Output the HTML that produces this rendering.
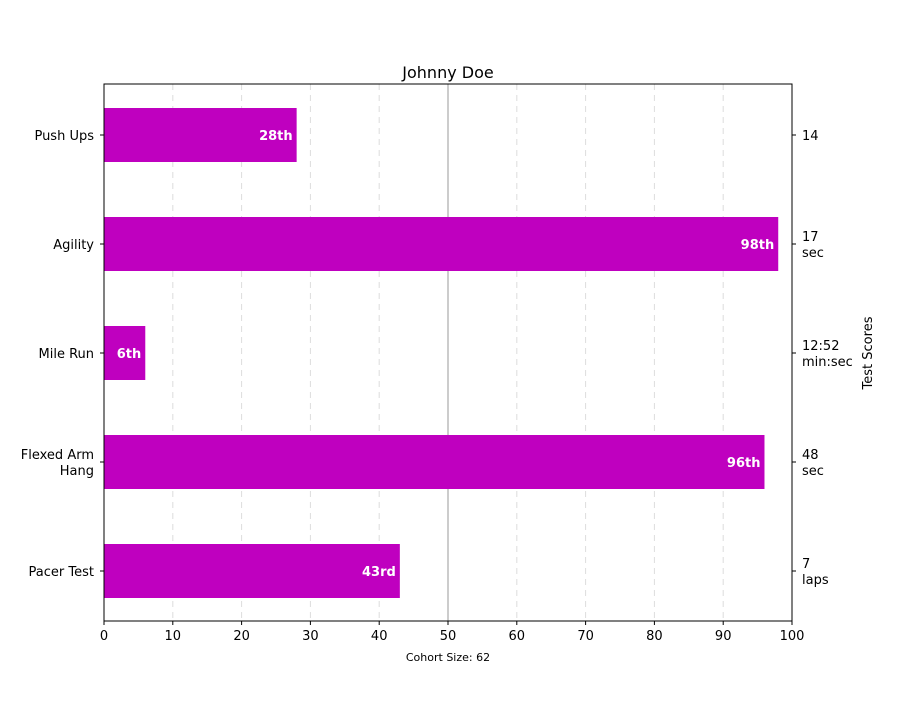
<!DOCTYPE html>
<html><head><meta charset="utf-8"><style>body{margin:0;background:#fff}text{font-family:"DejaVu Sans","Liberation Sans",sans-serif}</style></head>
<body>
<svg id="chart" width="900" height="700" xmlns="http://www.w3.org/2000/svg"></svg>
<script>
const categories = ["Pacer Test","Flexed Arm\nHang","Mile Run","Agility","Push Ups"];
const percentiles = [43, 96, 6, 98, 28];
const rankLabels = ["43rd","96th","6th","98th","28th"];
const scoreLabels = ["7\nlaps","48\nsec","12:52\nmin:sec","17\nsec","14"];
const xTicks = [0,10,20,30,40,50,60,70,80,90,100];
const median = 50;

const L=104,R=792,T=84,B=621;
const X=v=>L+(v/100)*(R-L);
const Y=i=>571-i*109;
const barH=54;
const svg=document.getElementById('chart');
const NS='http://www.w3.org/2000/svg';
function mk(tag,attrs,parent){const e=document.createElementNS(NS,tag);for(const k in attrs)e.setAttribute(k,attrs[k]);(parent||svg).appendChild(e);return e;}
function multi(t,x,y,anchor,size,parent){const lines=t.split('\n');const e=mk('text',{x:x,'text-anchor':anchor,'font-size':size,fill:'#000'},parent);lines.forEach((ln,k)=>{const s=mk('tspan',{x:x,y:y+(k-(lines.length-1)/2)*16+5},e);s.textContent=ln;});return e;}

// grid
xTicks.forEach(v=>{if(v===0||v===100)return;const g=mk('line',{x1:X(v),x2:X(v),y1:T,y2:B,stroke:v===median?'#bbbbbb':'#dddddd','stroke-width':v===median?1.5:1,'stroke-dasharray':v===median?'none':'6,5'});

});

// bars
percentiles.forEach((p,i)=>{
const r=mk('rect',{x:X(0),y:Y(i)-barH/2,width:X(p)-X(0),height:barH,fill:'#bf00bf'});


const t=mk('text',{x:X(p)-4,y:Y(i)+5,'text-anchor':'end','font-size':13,'font-weight':'bold',fill:'#fff'});
t.textContent=rankLabels[i];


const cl=multi(categories[i],94,Y(i),'end',13);


const sl=multi(scoreLabels[i],802,Y(i),'start',13);


mk('line',{x1:L-4,x2:L,y1:Y(i),y2:Y(i),stroke:'#000'});
mk('line',{x1:R,x2:R+4,y1:Y(i),y2:Y(i),stroke:'#000'});
});

// frame
const f=mk('rect',{x:L,y:T,width:R-L,height:B-T,fill:'none',stroke:'#000','stroke-width':1});



xTicks.forEach(v=>{mk('line',{x1:X(v),x2:X(v),y1:B,y2:B+4,stroke:'#000'});
const t=mk('text',{x:X(v),y:B+19,'text-anchor':'middle','font-size':13});t.textContent=v;

});

const ti=mk('text',{x:448,y:78,'text-anchor':'middle','font-size':16});ti.textContent='Johnny Doe';


const xl=mk('text',{x:448,y:661,'text-anchor':'middle','font-size':11});xl.textContent='Cohort Size: 62';


const yl=mk('text',{x:0,y:0,'text-anchor':'middle','font-size':13,transform:'translate(872,353) rotate(-90)'});yl.textContent='Test Scores';


</script>
</body></html>
